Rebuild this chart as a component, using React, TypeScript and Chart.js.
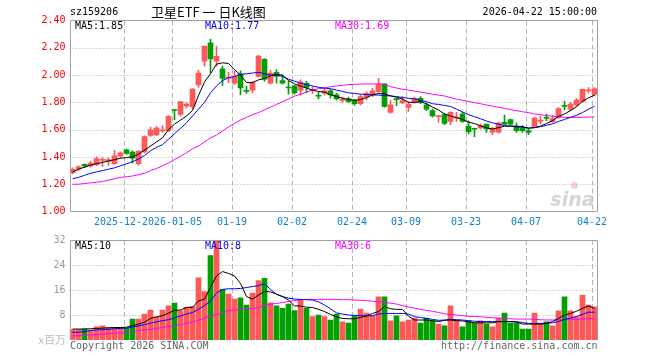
import React, { useEffect, useRef } from 'react';
import { Chart, registerables } from 'chart.js';

Chart.register(...registerables);

// ---------------- data ----------------
const DATES = [
  '2025-12-09','2025-12-10','2025-12-11','2025-12-12','2025-12-15','2025-12-16','2025-12-17','2025-12-18','2025-12-19',
  '2025-12-22','2025-12-23','2025-12-24','2025-12-25','2025-12-26','2025-12-29','2025-12-30','2025-12-31',
  '2026-01-05','2026-01-06','2026-01-07','2026-01-08','2026-01-09','2026-01-12','2026-01-13','2026-01-14','2026-01-15','2026-01-16',
  '2026-01-19','2026-01-20','2026-01-21','2026-01-22','2026-01-23','2026-01-26','2026-01-27','2026-01-28','2026-01-29','2026-01-30',
  '2026-02-02','2026-02-03','2026-02-04','2026-02-05','2026-02-06','2026-02-09','2026-02-10','2026-02-11','2026-02-12','2026-02-13',
  '2026-02-24','2026-02-25','2026-02-26','2026-02-27','2026-03-02','2026-03-03','2026-03-04','2026-03-05','2026-03-06',
  '2026-03-09','2026-03-10','2026-03-11','2026-03-12','2026-03-13','2026-03-16','2026-03-17','2026-03-18','2026-03-19','2026-03-20',
  '2026-03-23','2026-03-24','2026-03-25','2026-03-26','2026-03-27','2026-03-30','2026-03-31','2026-04-01','2026-04-02','2026-04-03',
  '2026-04-07','2026-04-08','2026-04-09','2026-04-10','2026-04-13','2026-04-14','2026-04-15','2026-04-16','2026-04-17',
  '2026-04-20','2026-04-21','2026-04-22',
];

const OPEN = [
  1.285,1.31,1.345,1.335,1.345,1.375,1.368,1.35,1.405,1.452,
  1.435,1.35,1.437,1.557,1.562,1.591,1.594,1.745,1.711,1.773,
  1.768,1.927,2.102,2.237,2.102,2.046,1.978,1.94,2.01,1.886,
  1.89,1.99,2.115,1.94,2.02,1.96,1.91,1.92,1.89,1.94,
  1.885,1.85,1.867,1.885,1.855,1.815,1.825,1.815,1.79,1.838,
  1.852,1.879,1.935,1.726,1.825,1.795,1.762,1.80,1.83,1.782,
  1.74,1.695,1.71,1.66,1.685,1.714,1.624,1.61,1.612,1.641,
  1.581,1.581,1.653,1.673,1.624,1.61,1.593,1.624,1.662,1.69,
  1.658,1.69,1.777,1.75,1.779,1.806,1.884,1.859,
];
const HIGH = [
  1.32,1.335,1.35,1.37,1.40,1.395,1.393,1.45,1.437,1.457,
  1.445,1.445,1.554,1.619,1.624,1.629,1.703,1.748,1.805,1.798,
  1.902,2.034,2.212,2.262,2.212,2.065,2.02,2.03,2.03,1.92,
  1.95,2.145,2.12,2.035,2.04,2.0,1.955,1.925,1.965,1.955,
  1.915,1.875,1.905,1.895,1.867,1.838,1.838,1.823,1.855,1.879,
  1.903,1.976,1.935,1.813,1.828,1.842,1.806,1.838,1.842,1.794,
  1.75,1.705,1.72,1.733,1.726,1.726,1.665,1.612,1.641,1.641,
  1.617,1.653,1.707,1.678,1.648,1.629,1.605,1.69,1.70,1.714,
  1.707,1.762,1.81,1.80,1.828,1.90,1.908,1.908,
];
const LOW = [
  1.275,1.30,1.322,1.325,1.336,1.331,1.338,1.345,1.395,1.418,
  1.355,1.338,1.43,1.55,1.555,1.579,1.586,1.673,1.698,1.76,
  1.753,1.909,2.065,2.016,2.065,1.925,1.945,1.93,1.855,1.865,
  1.87,1.985,1.955,1.935,1.94,1.935,1.86,1.86,1.85,1.87,
  1.865,1.825,1.855,1.83,1.818,1.80,1.80,1.777,1.782,1.818,
  1.842,1.872,1.762,1.721,1.775,1.79,1.733,1.794,1.79,1.74,
  1.692,1.655,1.636,1.636,1.66,1.653,1.568,1.549,1.605,1.58,
  1.564,1.573,1.636,1.634,1.58,1.58,1.564,1.617,1.641,1.665,
  1.653,1.682,1.745,1.738,1.77,1.799,1.867,1.847,
];
const CLOSE = [
  1.31,1.328,1.335,1.355,1.388,1.383,1.38,1.408,1.43,1.425,
  1.39,1.442,1.549,1.599,1.611,1.599,1.698,1.74,1.805,1.788,
  1.897,2.014,2.212,2.119,2.138,1.975,1.985,1.99,1.905,1.881,
  1.945,2.14,1.97,2.015,1.99,1.94,1.905,1.87,1.95,1.91,
  1.89,1.845,1.885,1.855,1.825,1.82,1.805,1.79,1.842,1.867,
  1.884,1.935,1.77,1.782,1.82,1.813,1.786,1.83,1.80,1.75,
  1.70,1.70,1.645,1.726,1.69,1.66,1.585,1.603,1.63,1.605,
  1.605,1.649,1.641,1.641,1.593,1.593,1.58,1.685,1.665,1.683,
  1.682,1.755,1.77,1.787,1.816,1.896,1.889,1.90,
];

const MA5 = [
  1.29,1.31,1.325,1.34,1.35,1.36,1.37,1.38,1.39,1.395,
  1.40,1.42,1.45,1.48,1.51,1.54,1.60,1.64,1.67,1.70,
  1.74,1.85,1.95,2.01,2.08,2.09,2.085,2.04,2.0,1.945,
  1.945,1.965,1.975,1.995,2.005,2.0,1.96,1.935,1.92,1.905,
  1.89,1.88,1.875,1.855,1.843,1.83,1.823,1.815,1.82,1.835,
  1.855,1.865,1.862,1.848,1.838,1.824,1.80,1.80,1.805,1.79,
  1.765,1.745,1.715,1.70,1.688,1.675,1.655,1.645,1.628,1.613,
  1.605,1.615,1.625,1.627,1.625,1.622,1.61,1.615,1.625,1.645,
  1.665,1.697,1.715,1.74,1.768,1.808,1.833,1.853,
];
const MA10 = [
  1.24,1.25,1.265,1.28,1.29,1.30,1.31,1.32,1.335,1.35,
  1.365,1.385,1.41,1.445,1.47,1.49,1.53,1.57,1.61,1.65,
  1.70,1.75,1.80,1.87,1.92,1.96,1.98,1.99,2.005,2.01,
  2.015,2.02,2.01,2.00,2.0,1.99,1.97,1.955,1.94,1.93,
  1.92,1.91,1.905,1.90,1.89,1.88,1.87,1.865,1.86,1.857,
  1.855,1.853,1.85,1.847,1.842,1.836,1.83,1.825,1.815,1.805,
  1.79,1.785,1.777,1.77,1.75,1.73,1.71,1.695,1.68,1.663,
  1.65,1.64,1.63,1.625,1.62,1.617,1.612,1.615,1.622,1.632,
  1.642,1.66,1.675,1.69,1.705,1.725,1.75,1.772,
];
const MA30 = [
  1.20,1.20,1.205,1.21,1.215,1.22,1.23,1.24,1.25,1.255,
  1.26,1.27,1.28,1.30,1.315,1.335,1.355,1.38,1.405,1.43,
  1.46,1.48,1.51,1.54,1.56,1.59,1.62,1.645,1.67,1.69,
  1.71,1.725,1.745,1.765,1.785,1.805,1.825,1.845,1.86,1.875,
  1.89,1.90,1.905,1.915,1.92,1.925,1.93,1.932,1.934,1.935,
  1.935,1.935,1.932,1.915,1.905,1.896,1.89,1.882,1.875,1.868,
  1.86,1.853,1.847,1.835,1.823,1.815,1.806,1.798,1.79,1.781,
  1.772,1.764,1.755,1.747,1.739,1.731,1.725,1.715,1.71,1.703,
  1.698,1.694,1.69,1.69,1.69,1.69,1.692,1.694,
];

// volume, millions
const VOLUME = [
  3.3,3.3,3.6,3.2,4.2,4.5,4.0,4.0,4.0,3.8,
  6.7,6.7,8.3,9.6,7.3,9.6,10.9,11.8,9.3,10.5,
  10.7,19.9,15.5,27.0,31.8,16.2,14.7,13.1,13.5,11.2,
  15.0,19.0,19.7,11.9,10.9,10.1,11.5,9.4,12.9,10.1,
  7.5,8.0,7.5,6.4,8.3,5.8,5.4,7.7,9.9,8.6,
  7.7,13.8,13.8,6.1,7.7,5.8,6.4,7.0,5.4,7.0,
  6.1,5.1,4.5,10.9,6.4,4.2,6.1,5.4,6.1,5.1,
  4.2,7.0,8.6,5.4,5.4,3.5,3.5,8.6,5.1,5.8,
  4.5,9.3,13.8,9.3,7.4,14.4,11.2,10.6,
];
const VMA5 = [
  3.5,3.5,3.5,3.6,3.7,3.8,3.9,4.0,4.0,4.1,
  4.6,5.1,5.7,6.9,7.4,7.8,8.6,9.5,9.6,10.4,
  10.5,12.5,13.1,16.8,20.5,21.9,21.3,20.5,18.1,13.9,
  13.1,14.4,15.5,15.4,14.7,13.9,12.8,10.9,10.9,10.5,
  10.4,9.8,9.1,8.2,7.4,6.9,6.8,6.8,7.2,7.7,
  8.5,9.1,10.7,10.0,9.8,9.8,7.6,6.4,6.4,6.4,
  6.2,5.9,6.3,6.4,6.2,6.1,5.8,5.5,5.5,5.5,
  5.5,5.9,5.9,5.9,5.7,5.1,5.1,5.1,5.1,5.3,
  5.9,6.9,8.0,8.5,9.2,10.1,10.9,10.1,
];
const VMA10 = [
  2.5,2.5,2.7,3.0,3.2,3.3,3.4,3.6,3.7,3.8,
  4.1,4.5,4.9,5.4,5.8,6.2,6.5,7.1,7.7,8.3,
  8.8,9.8,11.0,12.5,15.0,16.2,16.4,16.4,16.5,16.8,
  17.1,17.4,18.0,16.2,14.6,13.9,13.4,13.1,13.0,12.9,
  12.8,12.2,11.2,10.0,8.7,8.3,8.0,7.9,7.8,7.7,
  7.8,8.3,8.5,8.5,8.5,8.5,8.3,7.5,7.2,6.9,
  6.6,6.3,6.4,6.6,6.5,6.4,6.2,6.0,5.9,5.9,
  5.9,5.9,5.9,5.9,5.9,5.6,5.3,5.3,5.3,5.4,
  5.5,5.9,6.6,7.0,7.5,8.2,8.9,8.9,
];
const VMA30 = [
  1.3,1.4,1.5,1.6,1.7,1.9,2.0,2.1,2.2,2.4,
  2.6,3.0,3.2,3.4,3.7,4.0,4.3,4.6,4.9,5.3,
  5.8,6.3,7.0,7.7,8.2,8.5,9.4,9.6,9.8,9.9,
  10.1,10.3,11.2,11.5,11.7,12.0,12.3,12.6,12.9,13.0,
  13.0,13.0,13.0,13.0,13.0,12.9,12.9,12.8,12.7,12.6,
  12.4,12.3,12.0,11.8,11.5,11.0,10.6,10.2,9.8,9.5,
  9.2,8.8,8.4,8.2,8.0,7.8,7.6,7.5,7.4,7.3,
  7.1,7.0,6.9,6.8,6.7,6.7,6.7,6.6,6.5,6.4,
  6.4,6.5,6.5,6.5,6.6,6.7,6.8,6.9,
];

const TICK_DATES = ['2025-12-22','2026-01-05','2026-01-19','2026-02-02','2026-02-24','2026-03-09','2026-03-23','2026-04-07','2026-04-22'];
const TICK_TEXT = ['2025-12-22','2026-01-05','01-19','02-02','02-24','03-09','03-23','04-07','04-22'];
const PRICE_GRID = [1.2, 1.4, 1.6, 1.8, 2.0, 2.2];
const VOL_GRID = [8, 16, 24];

const CODE = 'sz159206';
const TITLE = '卫星ETF 一 日K线图';
const STAMP = '2026-04-22 15:00:00';
const VOL_UNIT = 'x百万';
const COPYRIGHT = 'Copyright 2026 SINA.COM';
const URL_TEXT = 'http://finance.sina.com.cn';

// ---------------- styles ----------------
const UP = '#ff5858';
const DOWN = '#00a000';
const GRID = '#b4b4b4';
const FRAME = '#a0a0a0';
const MONO = '"DejaVu Sans Mono", monospace';
const XLAB = '#1280cc';

function drawGrid(chart: any, yVals: number[]) {
  const { ctx, chartArea: ca, scales } = chart;
  const x = scales.x, y = scales.y;
  ctx.save();
  ctx.strokeStyle = GRID;
  ctx.lineWidth = 1;
  ctx.setLineDash([1, 2]);
  for (const v of yVals) {
    const py = Math.round(y.getPixelForValue(v)) + 0.5;
    ctx.beginPath();
    ctx.moveTo(ca.left, py);
    ctx.lineTo(ca.right, py);
    ctx.stroke();
  }
  ctx.setLineDash([5, 3]);
  const slot = x.getPixelForValue(1) - x.getPixelForValue(0);
  for (const d of TICK_DATES) {
    const i = DATES.indexOf(d);
    const px = Math.ceil(x.getPixelForValue(i) - slot / 2) + 0.5;
    ctx.beginPath();
    ctx.moveTo(px, ca.top);
    ctx.lineTo(px, ca.bottom);
    ctx.stroke();
  }
  ctx.restore();
}

function frame(chart: any, withBottom: boolean) {
  const { ctx, chartArea: ca } = chart;
  const L = Math.ceil(ca.left) + 0.5;
  const T = Math.floor(ca.top) + 0.5;
  const R = Math.floor(ca.right) + 0.5;
  const B = Math.floor(ca.bottom) + 0.5;
  ctx.save();
  ctx.strokeStyle = FRAME;
  ctx.lineWidth = 1;
  ctx.setLineDash([]);
  ctx.beginPath();
  ctx.moveTo(L, withBottom ? B : ca.bottom);
  ctx.lineTo(L, T);
  ctx.lineTo(R, T);
  ctx.lineTo(R, withBottom ? B : ca.bottom);
  if (withBottom) ctx.lineTo(L, B);
  ctx.stroke();
  ctx.restore();
}

function text(ctx: any, s: string, x: number, y: number, color: string, font: string, align: string) {
  ctx.font = font;
  ctx.fillStyle = color;
  ctx.textAlign = align;
  ctx.textBaseline = 'middle';
  ctx.fillText(s, x, y);
}

export default function App() {
  const priceRef = useRef<HTMLCanvasElement>(null);
  const volRef = useRef<HTMLCanvasElement>(null);

  useEffect(() => {
    const colors = OPEN.map((o, i) => (CLOSE[i] >= o ? UP : DOWN));
    const last = DATES.length - 1;
    const font10 = `10px ${MONO}`;

    const pricePlugin = {
      id: 'pricePlugin',
      beforeDatasetsDraw(chart: any) {
        drawGrid(chart, PRICE_GRID);
        const { ctx, chartArea: ca } = chart;
        // watermark (behind marks)
        ctx.save();
        ctx.font = 'italic bold 19px "DejaVu Sans"';
        ctx.fillStyle = 'rgba(195,195,195,0.7)';
        ctx.textAlign = 'right';
        ctx.textBaseline = 'alphabetic';
        ctx.fillText('sina', ca.right - 3, ca.bottom - 6);
        ctx.fillStyle = 'rgba(240,160,160,0.5)';
        ctx.beginPath();
        ctx.arc(ca.right - 23, ca.bottom - 26, 3.5, 0, Math.PI * 2);
        ctx.fill();
        ctx.restore();
      },
      afterDatasetsDraw(chart: any) {
        const { ctx, chartArea: ca, scales } = chart;
        frame(chart, true);
        // x labels
        const x = scales.x;
        const slot = x.getPixelForValue(1) - x.getPixelForValue(0);
        ctx.save();
        ctx.font = font10;
        TICK_DATES.forEach((d, k) => {
          const i = DATES.indexOf(d);
          const px = Math.ceil(x.getPixelForValue(i) - slot / 2);
          const t = TICK_TEXT[k];
          const w = ctx.measureText(t).width;
          ctx.fillStyle = '#ffffff';
          ctx.fillRect(px - w / 2 - 1, ca.bottom + 4, w + 2, 13);
          text(ctx, t, px, ca.bottom + 10.5, XLAB, font10, 'center');
        });
        // MA labels
        text(ctx, `MA5:${MA5[last].toFixed(2)}`, 75, 26.5, '#000000', font10, 'left');
        text(ctx, `MA10:${MA10[last].toFixed(2)}`, 205, 26.5, '#0000ff', font10, 'left');
        text(ctx, `MA30:${MA30[last].toFixed(2)}`, 335, 26.5, '#ff00ff', font10, 'left');
        // header
        text(ctx, CODE, 70, 12.5, '#000000', font10, 'left');
        text(ctx, TITLE, 151, 12.5, '#000000', '13px "Noto Sans CJK SC"', 'left');
        text(ctx, STAMP, 597, 12.5, '#000000', font10, 'right');
        ctx.restore();
      },
    };

    const volPlugin = {
      id: 'volPlugin',
      beforeDatasetsDraw(chart: any) {
        drawGrid(chart, VOL_GRID);
      },
      afterDatasetsDraw(chart: any) {
        const { ctx, chartArea: ca } = chart;
        frame(chart, false);
        ctx.save();
        text(ctx, `MA5:${Math.floor(VMA5[last])}`, 75, 16.5, '#000000', font10, 'left');
        text(ctx, `MA10:${Math.floor(VMA10[last])}`, 205, 16.5, '#0000ff', font10, 'left');
        text(ctx, `MA30:${Math.floor(VMA30[last])}`, 335, 16.5, '#ff00ff', font10, 'left');
        text(ctx, VOL_UNIT, 66, ca.bottom, '#bdbdbd', '11px "Noto Sans CJK SC"', 'right');
        text(ctx, COPYRIGHT, 70, ca.bottom + 6.5, '#666666', font10, 'left');
        text(ctx, URL_TEXT, 597.5, ca.bottom + 6.5, '#666666', font10, 'right');
        ctx.restore();
      },
    };

    const lineDs = (data: number[], color: string) => ({
      type: 'line' as const,
      data,
      borderColor: color,
      borderWidth: 1,
      pointRadius: 0,
      fill: false,
      tension: 0,
      order: 0,
    });

    const yCommon = (min: number, max: number, step: number, color: string, cb: (v: number) => string) => ({
      type: 'linear' as const,
      position: 'left' as const,
      min,
      max,
      afterFit: (scale: any) => {
        scale.width = 69.5;
      },
      grid: { display: false, drawTicks: false },
      border: { display: false },
      ticks: {
        stepSize: step,
        color,
        padding: 4,
        font: { family: MONO, size: 10 },
        callback: (v: any) => cb(Number(v)),
      },
    });

    const xCommon = {
      type: 'category' as const,
      labels: DATES,
      offset: true,
      display: false,
      grid: { display: false },
    };

    const c1 = new Chart(priceRef.current as HTMLCanvasElement, {
      type: 'bar',
      data: {
        labels: DATES,
        datasets: [
          lineDs(MA5, '#000000'),
          lineDs(MA10, '#0000ff'),
          lineDs(MA30, '#ff00ff'),
          {
            type: 'bar',
            data: OPEN.map((o, i) => [o, CLOSE[i]]),
            backgroundColor: colors,
            borderWidth: 0,
            barThickness: 5,
            grouped: false,
            minBarLength: 1,
            order: 1,
          } as any,
          {
            type: 'bar',
            data: LOW.map((l, i) => [l, HIGH[i]]),
            backgroundColor: colors,
            borderWidth: 0,
            barThickness: 1,
            grouped: false,
            order: 2,
          } as any,
        ],
      },
      options: {
        responsive: false,
        animation: false,
        devicePixelRatio: 1,
        events: [],
        layout: { padding: { left: 0, top: 20.5, right: 62.5, bottom: 18.5 } },
        plugins: { legend: { display: false }, tooltip: { enabled: false } },
        scales: {
          x: xCommon,
          y: yCommon(1.0, 2.4, 0.2, '#ff0000', (v) => v.toFixed(2)),
        },
      } as any,
      plugins: [pricePlugin],
    });

    const c2 = new Chart(volRef.current as HTMLCanvasElement, {
      type: 'bar',
      data: {
        labels: DATES,
        datasets: [
          lineDs(VMA5, '#000000'),
          lineDs(VMA10, '#0000ff'),
          lineDs(VMA30, '#ff00ff'),
          {
            type: 'bar',
            data: VOLUME,
            backgroundColor: colors,
            borderWidth: 0,
            barThickness: 5,
            grouped: false,
            order: 1,
          } as any,
        ],
      },
      options: {
        responsive: false,
        animation: false,
        devicePixelRatio: 1,
        events: [],
        layout: { padding: { left: 0, top: 10, right: 62.5, bottom: 20 } },
        plugins: { legend: { display: false }, tooltip: { enabled: false } },
        scales: {
          x: xCommon,
          y: yCommon(0, 32, 8, '#9a9a9a', (v) => (v === 0 ? '' : String(Math.round(v)))),
        },
      } as any,
      plugins: [volPlugin],
    });

    return () => {
      c1.destroy();
      c2.destroy();
    };
  }, []);

  return (
    <div style={{ position: 'fixed', left: 0, top: 0, width: 660, height: 360, background: '#ffffff' }}>
      <canvas
        ref={priceRef}
        width={660}
        height={230}
        style={{ position: 'absolute', left: 0, top: 0, width: 660, height: 230 }}
      />
      <canvas
        ref={volRef}
        width={660}
        height={130}
        style={{ position: 'absolute', left: 0, top: 230, width: 660, height: 130 }}
      />
    </div>
  );
}
